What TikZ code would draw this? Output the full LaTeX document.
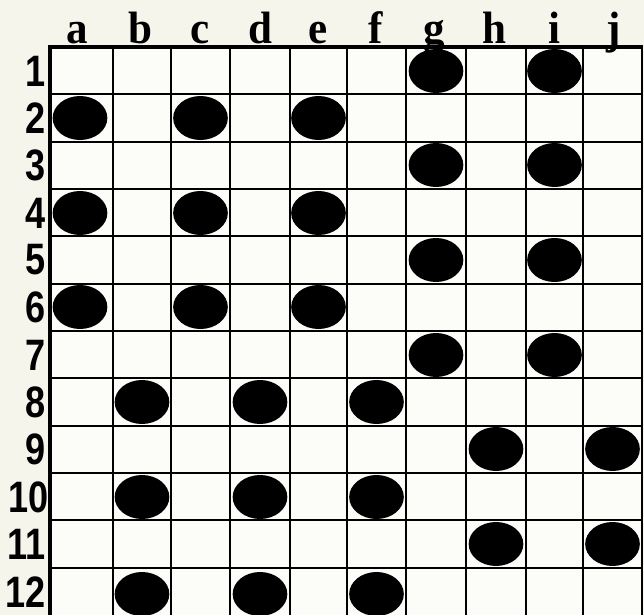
\documentclass[tikz,border=0pt]{standalone}
\usepackage{fontspec}
\usetikzlibrary{shapes.geometric}
\newfontfamily\headfont{Liberation Serif}
\newfontfamily\numfont{Liberation Sans}
\definecolor{paper}{RGB}{246,245,236}
\definecolor{cellwhite}{RGB}{252,252,249}

\tikzset{
  piece/.style={ellipse,fill=black,inner sep=0pt,minimum width=41pt,minimum height=33pt},
  colhead/.style={font=\headfont\bfseries\fontsize{34}{34}\selectfont,anchor=base,xscale=0.95,inner sep=0pt},
  rowhead/.style={font=\numfont\bfseries\fontsize{33}{33}\selectfont,anchor=east,xscale=0.82,inner sep=0pt},
  gridline/.style={line width=1.6pt,black}
}

\begin{document}
\begin{tikzpicture}[x=0.75pt,y=-0.75pt]
  \useasboundingbox (0,0) rectangle (644,615);
  \fill[paper] (0,0) rectangle (644,615);
  \clip (0,0) rectangle (644,615);
  \fill[cellwhite] (50,47) rectangle (642,620);

  % column letters
  \node[colhead] (ha) at (77,43) {a};
  \node[colhead] (hb) at (140,43) {b};
  \node[colhead] (hc) at (200,43) {c};
  \node[colhead] (hd) at (260,43) {d};
  \node[colhead] (he) at (318,43) {e};
  \node[colhead] (hf) at (376,43) {f};
  \node[colhead] (hg) at (434,43) {g};
  \node[colhead] (hh) at (494,43) {h};
  \node[colhead] (hi) at (554,43) {i};
  \node[colhead] (hj) at (614,43) {j};

  % row numbers
  \node[rowhead] (r1) at (46,71) {1};
  \node[rowhead] (r2) at (46,118) {2};
  \node[rowhead] (r3) at (46,165) {3};
  \node[rowhead] (r4) at (46,213) {4};
  \node[rowhead] (r5) at (46,260) {5};
  \node[rowhead] (r6) at (46,307) {6};
  \node[rowhead] (r7) at (46,355) {7};
  \node[rowhead] (r8) at (46,402) {8};
  \node[rowhead] (r9) at (46,449) {9};
  \node[rowhead] (r10) at (49,497) {10};
  \node[rowhead] (r11) at (46,544) {11};
  \node[rowhead] (r12) at (46,592) {12};

  % board lines
  \draw[gridline] (113,47) -- (113,620) (171,47) -- (171,620) (230,47) -- (230,620)
    (290,47) -- (290,620) (347,47) -- (347,620) (406,47) -- (406,620)
    (466,47) -- (466,620) (526,47) -- (526,620) (583,47) -- (583,620);
  \draw[gridline] (50,94.3) -- (642,94.3) (50,141.7) -- (642,141.7) (50,189) -- (642,189)
    (50,236.3) -- (642,236.3) (50,283.7) -- (642,283.7) (50,331) -- (642,331)
    (50,378.3) -- (642,378.3) (50,425.7) -- (642,425.7) (50,473) -- (642,473)
    (50,520.3) -- (642,520.3) (50,567.7) -- (642,567.7);
  \draw[line width=1.8pt] (642,46) -- (642,620);
  \draw[line width=2.6pt] (48,47) -- (643,47);
  \draw[line width=3pt] (50,45) -- (50,620);

  % pieces
  \node[piece] (g1) at (436,71) {};
  \node[piece] (i1) at (554.5,71) {};
  \node[piece] (a2) at (80,118) {};
  \node[piece] (c2) at (200.5,118) {};
  \node[piece] (e2) at (318.5,118) {};
  \node[piece] (g3) at (436,165) {};
  \node[piece] (i3) at (554.5,165) {};
  \node[piece] (a4) at (80,213) {};
  \node[piece] (c4) at (200.5,213) {};
  \node[piece] (e4) at (318.5,213) {};
  \node[piece] (g5) at (436,260) {};
  \node[piece] (i5) at (554.5,260) {};
  \node[piece] (a6) at (80,307) {};
  \node[piece] (c6) at (200.5,307) {};
  \node[piece] (e6) at (318.5,307) {};
  \node[piece] (g7) at (436,355) {};
  \node[piece] (i7) at (554.5,355) {};
  \node[piece] (b8) at (142,402) {};
  \node[piece] (d8) at (260,402) {};
  \node[piece] (f8) at (376.5,402) {};
  \node[piece] (h9) at (496,449) {};
  \node[piece] (j9) at (612.5,449) {};
  \node[piece] (b10) at (142,497) {};
  \node[piece] (d10) at (260,497) {};
  \node[piece] (f10) at (376.5,497) {};
  \node[piece] (h11) at (496,544) {};
  \node[piece] (j11) at (612.5,544) {};
  \node[piece] (b12) at (142,594) {};
  \node[piece] (d12) at (260,594) {};
  \node[piece] (f12) at (376.5,594) {};
\end{tikzpicture}
\end{document}
